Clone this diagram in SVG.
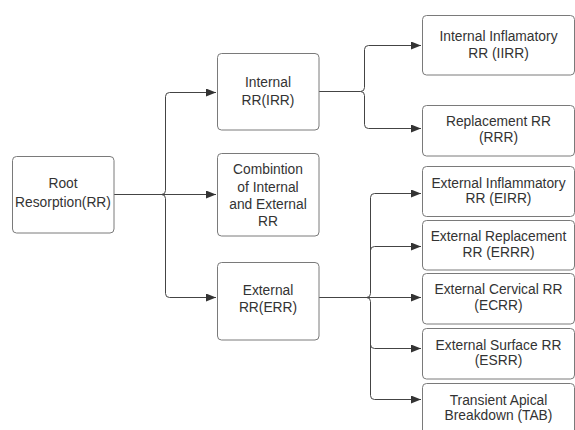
<svg xmlns="http://www.w3.org/2000/svg" width="575" height="430" viewBox="0 0 575 430">
<style>
.box{fill:#fff;stroke:#7a7a7a;stroke-width:1}
.t{font-family:"Liberation Sans",Arial,sans-serif;font-size:13.8px;fill:#333;text-anchor:middle}
.c{fill:none;stroke:#444;stroke-width:1}
</style>
<defs>
<marker id="ah" markerWidth="10" markerHeight="8" refX="10" refY="4" orient="auto" markerUnits="userSpaceOnUse">
<path d="M0,0 L10,4 L0,8 Z" fill="#333"/>
</marker>
</defs>
<rect width="575" height="430" fill="#fff"/>
<g id="connectors">
<path class="c" marker-end="url(#ah)" d="M114,194.5 H161.5 Q165.5,194.5 165.5,190.5 V96.5 Q165.5,92.5 169.5,92.5 H216"/>
<path class="c" marker-end="url(#ah)" d="M114,194.5 H216"/>
<path class="c" marker-end="url(#ah)" d="M161.5,194.5 Q165.5,194.5 165.5,198.5 V293.5 Q165.5,297.5 169.5,297.5 H216"/>
<path class="c" marker-end="url(#ah)" d="M319,91.5 H360.5 Q364.5,91.5 364.5,87.5 V49.5 Q364.5,45.5 368.5,45.5 H421"/>
<path class="c" marker-end="url(#ah)" d="M360.5,91.5 Q364.5,91.5 364.5,95.5 V124.5 Q364.5,128.5 368.5,128.5 H421"/>
<path class="c" marker-end="url(#ah)" d="M366.5,297.5 Q370.5,297.5 370.5,293.5 V197.5 Q370.5,193.5 374.5,193.5 H421"/>
<path class="c" marker-end="url(#ah)" d="M370.5,250.5 Q370.5,246.5 374.5,246.5 H421"/>
<path class="c" marker-end="url(#ah)" d="M319,297.5 H421"/>
<path class="c" marker-end="url(#ah)" d="M366.5,297.5 Q370.5,297.5 370.5,301.5 V395.5 Q370.5,399.5 374.5,399.5 H421"/>
<path class="c" marker-end="url(#ah)" d="M370.5,344.5 Q370.5,348.5 374.5,348.5 H421"/>
</g>
<g id="root">
<rect class="box" x="12.5" y="156.5" width="101.5" height="76.5" rx="4"/>
<text class="t" x="63" y="188">Root</text>
<text class="t" x="63" y="207">Resorption(RR)</text>
</g>
<g id="irr">
<rect class="box" x="217.5" y="53.5" width="101.5" height="76.5" rx="4"/>
<text class="t" x="268" y="86.5">Internal</text>
<text class="t" x="268" y="105">RR(IRR)</text>
</g>
<g id="combination">
<rect class="box" x="217.5" y="153.5" width="101.5" height="82.5" rx="4"/>
<text class="t" x="268" y="174">Combintion</text>
<text class="t" x="268" y="191.5">of Internal</text>
<text class="t" x="268" y="209">and External</text>
<text class="t" x="268" y="226">RR</text>
</g>
<g id="err">
<rect class="box" x="217.5" y="262.5" width="101.5" height="77.5" rx="4"/>
<text class="t" x="268" y="295">External</text>
<text class="t" x="268" y="312">RR(ERR)</text>
</g>
<g id="iirr">
<rect class="box" x="422.5" y="15.5" width="152" height="59.5" rx="4"/>
<text class="t" x="498.5" y="41">Internal Inflamatory</text>
<text class="t" x="498.5" y="58">RR (IIRR)</text>
</g>
<g id="rrr">
<rect class="box" x="422.5" y="105.5" width="152" height="50.5" rx="4"/>
<text class="t" x="498.5" y="125.5">Replacement RR</text>
<text class="t" x="498.5" y="142">(RRR)</text>
</g>
<g id="eirr">
<rect class="box" x="422.5" y="166.5" width="152" height="50" rx="4"/>
<text class="t" x="498.5" y="188">External Inflammatory</text>
<text class="t" x="498.5" y="202.5">RR (EIRR)</text>
</g>
<g id="errr">
<rect class="box" x="422.5" y="220.5" width="152" height="49.5" rx="4"/>
<text class="t" x="498.5" y="241">External Replacement</text>
<text class="t" x="498.5" y="256.5">RR (ERRR)</text>
</g>
<g id="ecrr">
<rect class="box" x="422.5" y="273.5" width="152" height="50.5" rx="4"/>
<text class="t" x="498.5" y="294">External Cervical RR</text>
<text class="t" x="498.5" y="310">(ECRR)</text>
</g>
<g id="esrr">
<rect class="box" x="422.5" y="328.5" width="152" height="50.5" rx="4"/>
<text class="t" x="498.5" y="349.5">External Surface RR</text>
<text class="t" x="498.5" y="365">(ESRR)</text>
</g>
<g id="tab">
<rect class="box" x="422.5" y="383.5" width="152" height="60" rx="4"/>
<text class="t" x="498.5" y="404.5">Transient Apical</text>
<text class="t" x="498.5" y="420">Breakdown (TAB)</text>
</g>
</svg>
